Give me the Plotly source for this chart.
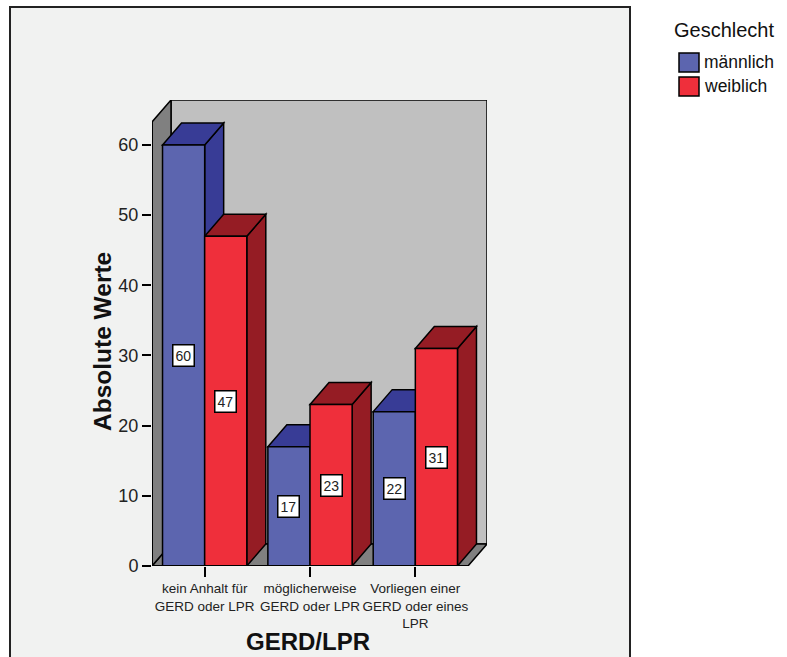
import plotly.graph_objects as go

# --- data ---
categories = ["kein Anhalt für<br>GERD oder LPR",
              "möglicherweise<br>GERD oder LPR",
              "Vorliegen einer<br>GERD oder eines<br>LPR"]
series_names = ["männlich", "weiblich"]
maennlich = [60, 17, 22]
weiblich = [47, 23, 31]
y_ticks = [0, 10, 20, 30, 40, 50, 60]

# --- styling ---
FONT = "Arial, Liberation Sans, sans-serif"
FRONT = ["#5c65af", "#ef2f3b"]
DARK = ["#383c96", "#951c24"]
BACK_WALL = "#c0c0c0"
SIDE_WALL = "#808080"
FRAME_BG = "#f1f2f1"

FIG_W, FIG_H = 787, 657
ML, MR, MT, MB = 152, 300, 100, 91
PW, PH = FIG_W - ML - MR, FIG_H - MT - MB

# axis scales: the category block spans 316 px, the value axis 7.017 px per unit
X_MIN = -0.5
X_FRONT_MAX = 2.5
X_MAX = X_MIN + PW * (X_FRONT_MAX - X_MIN) / 316.0
Y_MAX = PH / 7.017
px_x = PW / (X_MAX - X_MIN)
px_y = PH / Y_MAX

# depth of the pseudo-3D extrusion, in pixels converted to data units
DEPTH_X = 19 / px_x
DEPTH_Y = 22 / px_y
BAR_HALF = 0.2


def px2paper_x(px):
    return (px - ML) / PW


def py2paper_y(py):
    return (FIG_H - MB - py) / PH


def poly(points):
    return "M " + " L ".join(f"{x},{y}" for x, y in points) + " Z"


shapes = []

# outer chart frame
shapes.append(dict(type="rect", xref="paper", yref="paper", layer="below",
                   x0=px2paper_x(10), x1=px2paper_x(630),
                   y0=py2paper_y(700), y1=py2paper_y(7),
                   fillcolor=FRAME_BG, line=dict(color="#222222", width=2)))

edge = dict(color="black", width=1.5)
# back wall, floor, left wall
shapes.append(dict(type="path", xref="x", yref="y", layer="below",
                   path=poly([(X_MIN + DEPTH_X, DEPTH_Y), (X_MAX, DEPTH_Y),
                              (X_MAX, Y_MAX), (X_MIN + DEPTH_X, Y_MAX)]),
                   fillcolor=BACK_WALL, line=edge))
shapes.append(dict(type="path", xref="x", yref="y", layer="below",
                   path=poly([(X_MIN, 0), (X_FRONT_MAX, 0),
                              (X_FRONT_MAX + DEPTH_X, DEPTH_Y), (X_MIN + DEPTH_X, DEPTH_Y)]),
                   fillcolor=SIDE_WALL, line=edge))
shapes.append(dict(type="path", xref="x", yref="y", layer="below",
                   path=poly([(X_MIN, 0), (X_MIN, Y_MAX - DEPTH_Y),
                              (X_MIN + DEPTH_X, Y_MAX), (X_MIN + DEPTH_X, DEPTH_Y)]),
                   fillcolor=SIDE_WALL, line=edge))

# side and top faces of every bar, back to front
for i in range(len(categories)):
    for s, values in enumerate([maennlich, weiblich]):
        v = values[i]
        c = i + (-BAR_HALF if s == 0 else BAR_HALF)
        x0, x1 = c - BAR_HALF, c + BAR_HALF
        shapes.append(dict(type="path", xref="x", yref="y", layer="below",
                           path=poly([(x1, 0), (x1, v), (x1 + DEPTH_X, v + DEPTH_Y),
                                      (x1 + DEPTH_X, DEPTH_Y)]),
                           fillcolor=DARK[s], line=edge))
        shapes.append(dict(type="path", xref="x", yref="y", layer="below",
                           path=poly([(x0, v), (x1, v), (x1 + DEPTH_X, v + DEPTH_Y),
                                      (x0 + DEPTH_X, v + DEPTH_Y)]),
                           fillcolor=DARK[s], line=edge))

# front axis edges
shapes.append(dict(type="line", xref="x", yref="y", x0=X_MIN, x1=X_MIN,
                   y0=0, y1=Y_MAX - DEPTH_Y, line=dict(color="black", width=2)))
shapes.append(dict(type="line", xref="x", yref="y", x0=X_MIN, x1=X_FRONT_MAX,
                   y0=0, y1=0, line=dict(color="black", width=2)))

fig = go.Figure()
for s, values in enumerate([maennlich, weiblich]):
    fig.add_trace(go.Bar(
        x=list(range(len(categories))), y=values, name=series_names[s],
        marker=dict(color=FRONT[s], line=dict(color="black", width=1.5)),
        showlegend=False, hoverinfo="y+name"))

annotations = []
# value labels in white boxes at half bar height
for s, values in enumerate([maennlich, weiblich]):
    for i, v in enumerate(values):
        c = i + (-BAR_HALF if s == 0 else BAR_HALF)
        annotations.append(dict(x=c, y=v / 2, xref="x", yref="y", text=str(v),
                                xanchor="center", yanchor="middle",
                                showarrow=False, font=dict(family=FONT, size=14, color="#222"),
                                bgcolor="white", bordercolor="black", borderwidth=1.5,
                                borderpad=2))

# axis titles
annotations.append(dict(x=px2paper_x(308), y=py2paper_y(641), xref="paper", yref="paper",
                        xanchor="center", yanchor="middle",
                        text="<b>GERD/LPR</b>", showarrow=False,
                        font=dict(family=FONT, size=24, color="#111")))
annotations.append(dict(x=px2paper_x(102), y=py2paper_y(342), xref="paper", yref="paper",
                        xanchor="center", yanchor="middle",
                        text="<b>Absolute Werte</b>", showarrow=False, textangle=-90,
                        font=dict(family=FONT, size=24.5, color="#111")))

# legend
annotations.append(dict(x=px2paper_x(672), y=py2paper_y(30), xref="paper", yref="paper",
                        xanchor="left", yanchor="middle", text="Geschlecht", showarrow=False,
                        font=dict(family=FONT, size=20, color="#111")))
for s, (name, top) in enumerate(zip(series_names, [53, 77])):
    shapes.append(dict(type="rect", xref="paper", yref="paper",
                       x0=px2paper_x(679), x1=px2paper_x(699),
                       y0=py2paper_y(top + 19), y1=py2paper_y(top),
                       fillcolor=FRONT[s], line=dict(color="black", width=1.5)))
    annotations.append(dict(x=px2paper_x(702), y=py2paper_y(top + 9.5), xref="paper",
                            yref="paper", xanchor="left", yanchor="middle", text=name,
                            showarrow=False, font=dict(family=FONT, size=17.5, color="#111")))

fig.update_layout(
    width=FIG_W, height=FIG_H,
    margin=dict(l=ML, r=MR, t=MT, b=MB, autoexpand=False),
    paper_bgcolor="white", plot_bgcolor="rgba(0,0,0,0)",
    barmode="group", bargap=0.2, bargroupgap=0,
    font=dict(family=FONT, color="#222"),
    shapes=shapes, annotations=annotations,
    xaxis=dict(range=[X_MIN, X_MAX], tickvals=list(range(len(categories))),
               ticktext=categories, ticks="outside", ticklen=10, tickwidth=2,
               tickcolor="black", showgrid=False, zeroline=False, showline=False,
               tickfont=dict(family=FONT, size=13.5, color="#222")),
    yaxis=dict(range=[0, Y_MAX], tickvals=y_ticks, ticks="outside", ticklen=9,
               tickwidth=2, tickcolor="black", showgrid=False, zeroline=False,
               showline=False, tickfont=dict(family=FONT, size=18, color="#222")),
)

fig.write_html("out.html")
